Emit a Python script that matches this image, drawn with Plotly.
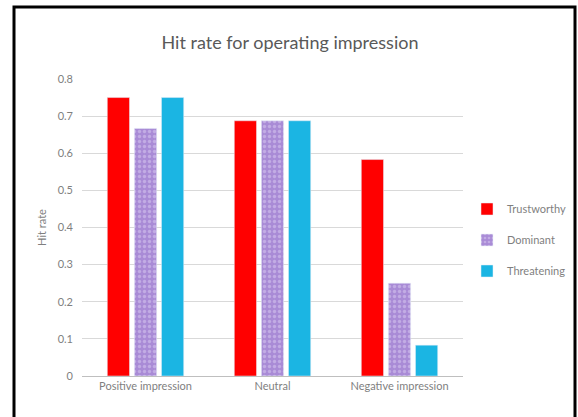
import plotly.graph_objects as go

categories = ["Positive impression", "Neutral", "Negative impression"]
trustworthy = [0.75, 0.6875, 0.583]
dominant = [0.667, 0.6875, 0.25]
threatening = [0.75, 0.6875, 0.083]
tick_vals = [0, 0.1, 0.2, 0.3, 0.4, 0.5, 0.6, 0.7, 0.8]
tick_text = ["0", "0.1", "0.2", "0.3", "0.4", "0.5", "0.6", "0.7", "0.8"]

W, H = 578, 417
L, R, T, B = 82, 4, 79, 41
pw, ph = W - L - R, H - T - B
plot_right = 463

def px2x(p):
    return (p - L) / pw

def py2y(p):
    return (H - B - p) / ph

fig = go.Figure()
fig.add_bar(name="Trustworthy", x=categories, y=trustworthy, marker_color="#ff0000",
            legendgroup="a")
fig.add_bar(name="Dominant", x=categories, y=dominant, legendgroup="b",
            marker=dict(color="#a98bd6",
                        pattern=dict(shape=".", fgcolor="#dccdf2", bgcolor="#a98bd6", size=5, solidity=0.35)))
fig.add_bar(name="Threatening", x=categories, y=threatening, marker_color="#1bb5e3",
            legendgroup="c")

fig.add_shape(type="rect", xref="paper", yref="paper",
              x0=px2x(14), x1=px2x(575), y0=py2y(430), y1=py2y(7),
              line=dict(color="black", width=3))

fig.update_layout(
    width=W, height=H,
    margin=dict(l=L, r=R, t=T, b=B),
    paper_bgcolor="white", plot_bgcolor="white",
    font=dict(family="Lato, Open Sans, sans-serif", color="#7f7f7f", size=11),
    title=dict(text="Hit rate for operating impression", x=px2x(290), xref="paper",
               xanchor="center", y=1 - 43 / H, yanchor="middle",
               font=dict(size=18, color="#595959")),
    barmode="group", bargap=0.36, bargroupgap=0.18,
    legend=dict(x=px2x(467), y=py2y(240), xanchor="left", yanchor="middle",
                font=dict(size=11, color="#7f7f7f"), itemwidth=30, tracegroupgap=12,
                traceorder="grouped", bgcolor="rgba(0,0,0,0)"),
    showlegend=True,
)
fig.update_yaxes(range=[0, 0.8], tickvals=tick_vals, ticktext=tick_text,
                 showgrid=True, gridcolor="#d9d9d9", gridwidth=1, zeroline=False,
                 showline=False, ticks="", ticklabelstandoff=8,
                 title=dict(text="Hit rate", font=dict(size=11, color="#7f7f7f"), standoff=8))
fig.update_xaxes(domain=[0, px2x(plot_right)], showline=True, linecolor="#bfbfbf", linewidth=1, ticks="",
                 tickfont=dict(size=11, color="#7f7f7f"))

fig.write_html("out.html")
